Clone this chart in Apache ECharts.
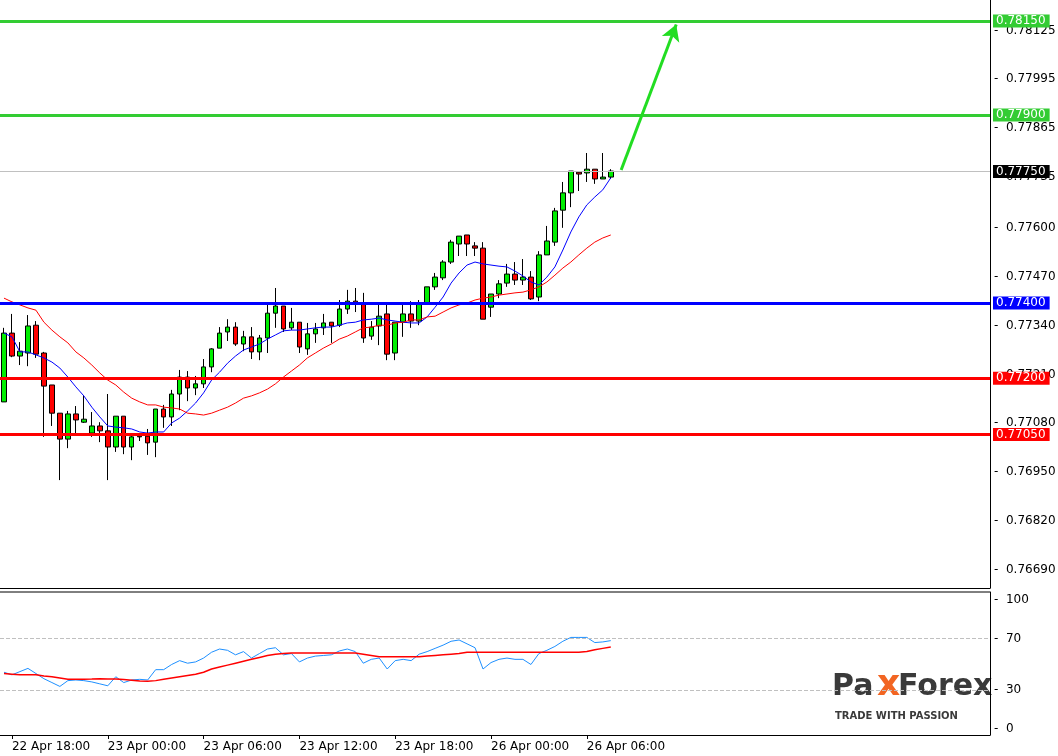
<!DOCTYPE html>
<html><head><meta charset="utf-8">
<script src="https://cdn.jsdelivr.net/npm/echarts@6/dist/echarts.min.js"></script>
<style>html,body{margin:0;padding:0;background:#fff}#c{width:1058px;height:756px}</style>
</head><body><div id="c"></div>
<script>
// OHLC as [open, close, low, high]
const candles = [
[0.77137,0.77320,0.77137,0.77334],[0.77320,0.77259,0.77256,0.77371],[0.77259,0.77272,0.77235,0.77296],[0.77267,0.77339,0.77232,0.77368],
[0.77341,0.77264,0.77254,0.77352],[0.77267,0.77179,0.77044,0.77270],[0.77182,0.77107,0.77073,0.77182],[0.77107,0.77038,0.76929,0.77107],
[0.77038,0.77105,0.77014,0.77113],[0.77105,0.77089,0.77054,0.77126],[0.77083,0.77091,0.77081,0.77155],[0.77054,0.77073,0.77044,0.77110],
[0.77073,0.77060,0.77030,0.77083],[0.77060,0.77017,0.76929,0.77158],[0.77017,0.77099,0.77004,0.77099],[0.77099,0.77017,0.76998,0.77099],
[0.77017,0.77044,0.76982,0.77052],[0.77046,0.77044,0.77033,0.77054],[0.77046,0.77028,0.76996,0.77065],[0.77030,0.77118,0.76990,0.77118],
[0.77118,0.77097,0.77068,0.77129],[0.77097,0.77158,0.77073,0.77169],[0.77158,0.77203,0.77115,0.77222],[0.77203,0.77174,0.77139,0.77219],
[0.77174,0.77185,0.77155,0.77206],[0.77185,0.77230,0.77174,0.77251],[0.77230,0.77278,0.77216,0.77280],[0.77280,0.77320,0.77280,0.77336],
[0.77323,0.77336,0.77299,0.77357],[0.77336,0.77291,0.77286,0.77349],[0.77291,0.77310,0.77272,0.77326],[0.77310,0.77270,0.77251,0.77336],
[0.77270,0.77307,0.77248,0.77315],[0.77307,0.77373,0.77267,0.77395],[0.77373,0.77392,0.77334,0.77440],[0.77392,0.77331,0.77323,0.77392],
[0.77334,0.77349,0.77328,0.77387],[0.77349,0.77283,0.77267,0.77349],[0.77278,0.77318,0.77262,0.77347],[0.77318,0.77331,0.77294,0.77347],
[0.77334,0.77347,0.77315,0.77371],[0.77349,0.77339,0.77294,0.77349],[0.77341,0.77384,0.77336,0.77408],[0.77384,0.77405,0.77371,0.77435],
[0.77405,0.77397,0.77376,0.77440],[0.77400,0.77307,0.77294,0.77427],[0.77312,0.77336,0.77302,0.77352],[0.77339,0.77365,0.77288,0.77395],
[0.77371,0.77264,0.77248,0.77395],[0.77267,0.77349,0.77248,0.77349],[0.77349,0.77371,0.77310,0.77395],[0.77371,0.77352,0.77334,0.77405],
[0.77352,0.77397,0.77341,0.77408],[0.77400,0.77443,0.77395,0.77443],[0.77443,0.77469,0.77435,0.77480],[0.77467,0.77509,0.77461,0.77514],
[0.77509,0.77562,0.77504,0.77568],[0.77557,0.77578,0.77525,0.77578],[0.77581,0.77557,0.77525,0.77581],[0.77552,0.77546,0.77525,0.77562],
[0.77546,0.77357,0.77357,0.77562],[0.77389,0.77424,0.77363,0.77424],[0.77424,0.77451,0.77413,0.77461],[0.77453,0.77477,0.77443,0.77504],
[0.77477,0.77461,0.77448,0.77509],[0.77461,0.77469,0.77448,0.77517],[0.77469,0.77411,0.77408,0.77485],[0.77416,0.77528,0.77405,0.77538],
[0.77528,0.77565,0.77528,0.77605],[0.77562,0.77645,0.77552,0.77653],[0.77647,0.77693,0.77600,0.77722],[0.77693,0.77751,0.77655,0.77751],
[0.77748,0.77743,0.77698,0.77751],[0.77746,0.77756,0.77722,0.77799],[0.77756,0.77730,0.77717,0.77756],[0.77730,0.77735,0.77730,0.77799],
[0.77735,0.77751,0.77730,0.77756]
];
const maFast = [0.77320,0.77310,0.77270,0.77270,0.77262,0.77254,0.77243,0.77227,0.77203,0.77177,0.77153,0.77123,0.77097,0.77073,0.77070,0.77068,0.77065,0.77057,0.77054,0.77057,
0.77057,0.77081,0.77094,0.77113,0.77134,0.77161,0.77195,0.77216,0.77240,0.77259,0.77275,0.77283,0.77291,0.77304,0.77315,0.77326,0.77328,0.77328,0.77331,0.77334,
0.77336,0.77336,0.77341,0.77347,0.77349,0.77355,0.77357,0.77360,0.77355,0.77352,0.77349,0.77347,0.77347,0.77363,0.77389,0.77416,0.77453,0.77480,0.77501,0.77509,
0.77504,0.77501,0.77498,0.77496,0.77485,0.77472,0.77456,0.77448,0.77469,0.77496,0.77541,0.77589,0.77629,0.77661,0.77682,0.77701,0.77733];
const maSlow = [0.77413,0.77403,0.77395,0.77387,0.77381,0.77349,0.77328,0.77310,0.77294,0.77270,0.77254,0.77235,0.77214,0.77195,0.77182,0.77163,0.77147,0.77137,0.77129,0.77129,
0.77123,0.77121,0.77118,0.77107,0.77105,0.77102,0.77107,0.77115,0.77123,0.77134,0.77147,0.77153,0.77161,0.77171,0.77185,0.77203,0.77219,0.77235,0.77254,0.77267,
0.77280,0.77291,0.77304,0.77312,0.77323,0.77334,0.77336,0.77341,0.77341,0.77347,0.77349,0.77355,0.77355,0.77363,0.77365,0.77376,0.77387,0.77395,0.77400,0.77408,
0.77413,0.77416,0.77421,0.77424,0.77427,0.77429,0.77435,0.77443,0.77456,0.77474,0.77493,0.77509,0.77528,0.77546,0.77562,0.77573,0.77581];
const rsi = [44,42,44.5,47,43,39,36,33,37.5,38,37.5,36.5,35,33.5,40.5,36,38,38.5,38,46,46,50,53,51,52,55,59.5,62,61,57.5,60,55,58.5,62,63,57.5,58.5,52,55,56.5,
57,57.5,60.5,62,60,51,54,55,46.5,53,54,53,58,60,62.5,65,68,69,66,63,46.5,51.5,54,55,54,54,50,58.5,61,64,68,71,71,71,67,67.5,68.5];
const rsiMa = [43,42.5,42,42,42,41,40.5,39.5,38.5,38.5,38.5,38.7,39,38.8,38.7,38.3,37.8,37.2,37,37.5,38.5,39.5,40.5,41.5,42.5,44,46.5,48,49.5,51,52.5,54,55.5,57,58,58.5,
59,59,59,59,59,59,59,59,59,58,57,56,56,56,56,56,56,56.5,57,57.5,58,58.5,59.5,59.5,59.5,59.5,59.5,59.5,59.5,59.5,59.5,59.5,59.5,59.5,59.5,59.5,59.5,60,61.5,62.5,63.5];
const timeLabels = ['22 Apr 18:00','23 Apr 00:00','23 Apr 06:00','23 Apr 12:00','23 Apr 18:00','26 Apr 00:00','26 Apr 06:00'];
const priceTicks = [0.78125,0.77995,0.77865,0.77735,0.77600,0.77470,0.77340,0.77210,0.77080,0.76950,0.76820,0.76690];
const rsiTicks = [100,70,30,0];
const levels = [
  {v:0.78150, c:'#33cc33'}, {v:0.77900, c:'#33cc33'},
  {v:0.77400, c:'#0000ff'}, {v:0.77200, c:'#ff0000'}, {v:0.77050, c:'#ff0000'}
];
const currentPrice = 0.77750;
const arrowFrom = [77.3, 0.77754], arrowTo = [84.2, 0.78141];
const rsiLevels = [70, 30];

const N = 124;
const cats = Array.from({length:N}, (_,i)=>i);
const font = 'DejaVu Sans';
const isTick = (i)=>i%12===1 && i<=73;
const clear = {color:'rgba(0,0,0,0)', width:1, type:'solid'};

const tickLines = priceTicks.map(v=>({yAxis:v, lineStyle:clear,
  label:{show:true, position:'end', distance:4, formatter:'-  '+v.toFixed(5), color:'#000', fontSize:12, fontFamily:font}}));
const levelLines = levels.map(l=>({yAxis:l.v, lineStyle:{color:l.c, width:3, type:'solid'},
  label:{show:true, position:'end', distance:3, formatter:l.v.toFixed(5), color:'#fff', backgroundColor:l.c, padding:[1,4,0,3], fontSize:12, fontFamily:font}}));
levelLines.unshift({yAxis:currentPrice, lineStyle:{color:'#c0c0c0', width:1, type:'solid'},
  label:{show:true, position:'end', distance:3, formatter:currentPrice.toFixed(5), color:'#fff', backgroundColor:'#000', padding:[1,4,0,3], fontSize:12, fontFamily:font}});
const rsiTickLines = rsiTicks.map(v=>({yAxis:v, lineStyle:clear,
  label:{show:true, position:'end', distance:4, formatter:'-  '+String(v), color:'#000', fontSize:12, fontFamily:font}}));
rsiLevels.forEach(v=>rsiTickLines.push({yAxis:v, lineStyle:{color:'#c0c0c0', type:'dashed', width:1}, label:{show:false}}));

const chart = echarts.init(document.getElementById('c'));
chart.setOption({
  animation:false,
  backgroundColor:'#fff',
  grid:[{left:-4, right:68, top:0, height:588},{left:-4, right:68, top:592, height:143}],
  xAxis:[
    {type:'category', data:cats, gridIndex:0, boundaryGap:true, axisLine:{show:true, onZero:false, lineStyle:{color:'#000'}}, axisTick:{show:false}, axisLabel:{show:false}},
    {type:'category', data:cats, gridIndex:1, boundaryGap:true, axisLine:{show:true, onZero:false, lineStyle:{color:'#000'}},
      axisTick:{show:true, length:4, interval:isTick, alignWithLabel:true, lineStyle:{color:'#000'}},
      axisLabel:{show:true, interval:isTick, formatter:(v,i)=>timeLabels[(i-1)/12]||'', align:'left', color:'#000', fontSize:12, fontFamily:font, margin:6}},
    {type:'value', gridIndex:0, min:-0.5, max:N-0.5, show:false}
  ],
  yAxis:[
    {type:'value', gridIndex:0, position:'right', min:0.76642, max:0.78206, splitLine:{show:false}, axisLabel:{show:false}, axisTick:{show:false}, axisLine:{show:true, onZero:false, lineStyle:{color:'#000'}}},
    {type:'value', gridIndex:1, position:'right', min:-4.65, max:106.2, splitLine:{show:false}, axisLabel:{show:false}, axisTick:{show:false}, axisLine:{show:true, onZero:false, lineStyle:{color:'#000'}}}
  ],
  series:[
    {type:'candlestick', xAxisIndex:0, yAxisIndex:0, data:candles, barWidth:5,
      itemStyle:{color:'#00ee00', color0:'#ff0000', borderColor:'#000', borderColor0:'#000', borderWidth:1}},
    {type:'line', xAxisIndex:0, yAxisIndex:0, data:maFast, symbol:'none', lineStyle:{color:'#0000ff', width:1}, z:3,
      markLine:{silent:true, precision:5, symbol:'none', animation:false, data:tickLines.concat(levelLines)}},
    {type:'line', xAxisIndex:0, yAxisIndex:0, data:maSlow, symbol:'none', lineStyle:{color:'#ff0000', width:1}, z:3},
    {type:'line', xAxisIndex:2, yAxisIndex:0, data:[], symbol:'none', z:5,
      markLine:{silent:true, precision:5, symbol:['none','arrow'], symbolSize:[14,16], animation:false,
        lineStyle:{color:'#22dd22', width:3, type:'solid'}, label:{show:false},
        data:[[{coord:arrowFrom},{coord:arrowTo}]]}},
    {type:'line', xAxisIndex:1, yAxisIndex:1, data:rsi, symbol:'none', lineStyle:{color:'#1e90ff', width:1},
      markLine:{silent:true, precision:2, symbol:'none', animation:false, data:rsiTickLines}},
    {type:'line', xAxisIndex:1, yAxisIndex:1, data:rsiMa, symbol:'none', lineStyle:{color:'#ff0000', width:1.5}}
  ],
  graphic:[
    {type:'line', shape:{x1:0,y1:592,x2:990,y2:592}, style:{stroke:'#000', lineWidth:1}},
    {type:'text', left:832, top:672, style:{text:'Pa', font:'bold 30px "DejaVu Sans"', fill:'#3a3a3a'}},
    {type:'text', left:877, top:668, style:{text:'x', font:'bold 36px "DejaVu Sans"', fill:'#f26522'}},
    {type:'text', left:898, top:672, style:{text:'Forex', font:'bold 30px "DejaVu Sans"', fill:'#3a3a3a'}},
    {type:'text', left:835, top:711, style:{text:'TRADE WITH PASSION', font:'bold 10px "DejaVu Sans"', fill:'#3a3a3a', letterSpacing:1.6}}
  ]
});
</script></body></html>
